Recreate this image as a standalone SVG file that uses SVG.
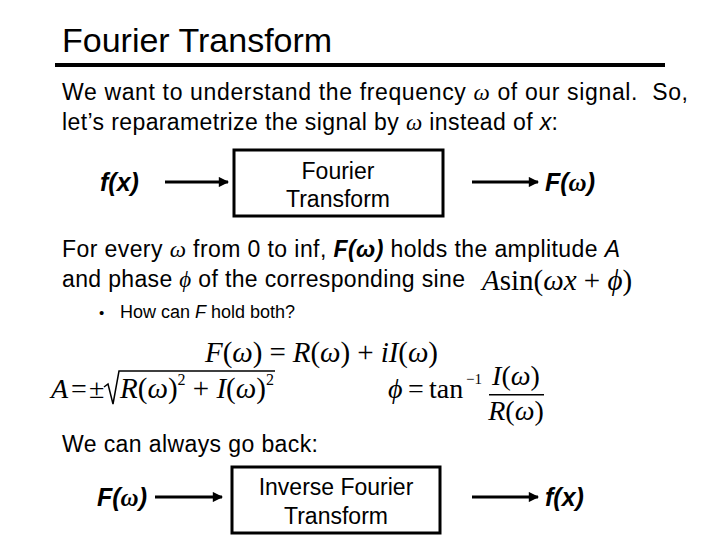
<svg xmlns="http://www.w3.org/2000/svg" width="720" height="540" viewBox="0 0 720 540">
<style>
.t{font-family:"Liberation Sans",Arial,sans-serif;fill:#000}
.body{font-size:23px}
.bi{font-size:25px;font-weight:bold;font-style:italic}
.m{font-family:"Liberation Serif","Times New Roman",serif;fill:#000}
.box{fill:#fff;stroke:#000;stroke-width:3}
.arr{stroke:#000;stroke-width:3;fill:none;marker-end:url(#ah)}
</style>
<defs>
<marker id="ah" viewBox="0 0 10 10" refX="9" refY="5" markerWidth="4" markerHeight="3.4" orient="auto" markerUnits="strokeWidth">
<path d="M0,0 L10,5 L0,10 z" fill="#000"/>
</marker>
</defs>
<rect width="720" height="540" fill="#fff"/>
<g id="title">
<text class="t" x="62" y="52" font-size="34">Fourier Transform</text>
<rect x="55" y="63" width="610" height="4" fill="#000"/>
</g>
<g id="intro" class="t body">
<text x="62" y="100" textLength="626" lengthAdjust="spacing">We want to understand the frequency <tspan class="m" font-style="italic">ω</tspan> of our signal.&#160; So,</text>
<text x="62" y="130" textLength="496" lengthAdjust="spacing">let’s reparametrize the signal by <tspan class="m" font-style="italic">ω</tspan> instead of <tspan font-style="italic">x</tspan>:</text>
</g>
<g id="fx1"><text class="t bi" x="100" y="191">f(x)</text></g>
<g id="ft">
<rect class="box" x="234" y="150" width="209" height="66"/>
<text class="t body" x="338" y="179" text-anchor="middle">Fourier</text>
<text class="t body" x="338" y="207" text-anchor="middle">Transform</text>
</g>
<g id="Fw1"><text class="t bi" x="545" y="191">F(<tspan class="m">ω</tspan>)</text></g>
<g id="text2" class="t body">
<text x="62" y="257" textLength="558" lengthAdjust="spacing">For every <tspan class="m" font-style="italic">ω</tspan> from 0 to inf, <tspan font-weight="bold" font-style="italic">F(ω)</tspan> holds the amplitude <tspan font-style="italic">A</tspan></text>
<text x="62" y="287" textLength="403" lengthAdjust="spacing">and phase <tspan class="m" font-style="italic">ϕ</tspan> of the corresponding sine</text>
<text class="m" x="482" y="290" font-size="29"><tspan font-style="italic">A</tspan>sin(<tspan font-style="italic">ωx</tspan> + <tspan font-style="italic">ϕ</tspan>)</text>
</g>
<g id="bullet" class="t">
<text x="99" y="318" font-size="15">•</text>
<text x="120" y="318" font-size="18">How can <tspan font-style="italic">F</tspan> hold both?</text>
</g>
<g id="eq1">
<text class="m" x="205" y="362" font-size="29" textLength="233" lengthAdjust="spacing"><tspan font-style="italic">F</tspan>(<tspan font-style="italic">ω</tspan>) = <tspan font-style="italic">R</tspan>(<tspan font-style="italic">ω</tspan>) + <tspan font-style="italic">iI</tspan>(<tspan font-style="italic">ω</tspan>)</text>
</g>
<g id="eq2">
<text class="m" x="51" y="398" font-size="28" font-style="italic">A</text>
<text class="m" x="71" y="398" font-size="28">=</text>
<text class="m" x="89" y="398" font-size="28">±</text>
<path d="M104,387 L108,384 L113,404 L119,371 L275,371" fill="none" stroke="#000" stroke-width="1.5"/>
<text class="m" x="120" y="398" font-size="29"><tspan font-style="italic">R</tspan>(<tspan font-style="italic">ω</tspan>)<tspan font-size="16" dy="-13">2</tspan><tspan dy="13"> + </tspan><tspan font-style="italic">I</tspan>(<tspan font-style="italic">ω</tspan>)<tspan font-size="16" dy="-13">2</tspan></text>
</g>
<g id="eq3">
<text class="m" x="388" y="398" font-size="28" font-style="italic">ϕ</text>
<text class="m" x="408" y="398" font-size="28">=</text>
<text class="m" x="429" y="398" font-size="28">tan</text>
<text class="m" x="466" y="384" font-size="15">−1</text>
<text class="m" x="516" y="385" font-size="28" text-anchor="middle"><tspan font-style="italic">I</tspan>(<tspan font-style="italic">ω</tspan>)</text>
<rect x="489" y="394" width="55" height="1.5" fill="#000"/>
<text class="m" x="516" y="420" font-size="28" text-anchor="middle"><tspan font-style="italic">R</tspan>(<tspan font-style="italic">ω</tspan>)</text>
</g>
<g id="back"><text class="t body" x="62" y="452" textLength="256" lengthAdjust="spacing">We can always go back:</text></g>
<g id="Fw2"><text class="t bi" x="97" y="506">F(<tspan class="m">ω</tspan>)</text></g>
<g id="ift">
<rect class="box" x="232" y="467" width="208" height="66"/>
<text class="t body" x="336" y="495" text-anchor="middle">Inverse Fourier</text>
<text class="t body" x="336" y="524" text-anchor="middle">Transform</text>
</g>
<g id="fx2"><text class="t bi" x="545" y="506">f(x)</text></g>
<g id="connectors">
<line class="arr" x1="165" y1="182" x2="228" y2="182"/>
<line class="arr" x1="472" y1="182" x2="538" y2="182"/>
<line class="arr" x1="155" y1="497" x2="222" y2="497"/>
<line class="arr" x1="472" y1="497" x2="538" y2="497"/>
</g>
</svg>
